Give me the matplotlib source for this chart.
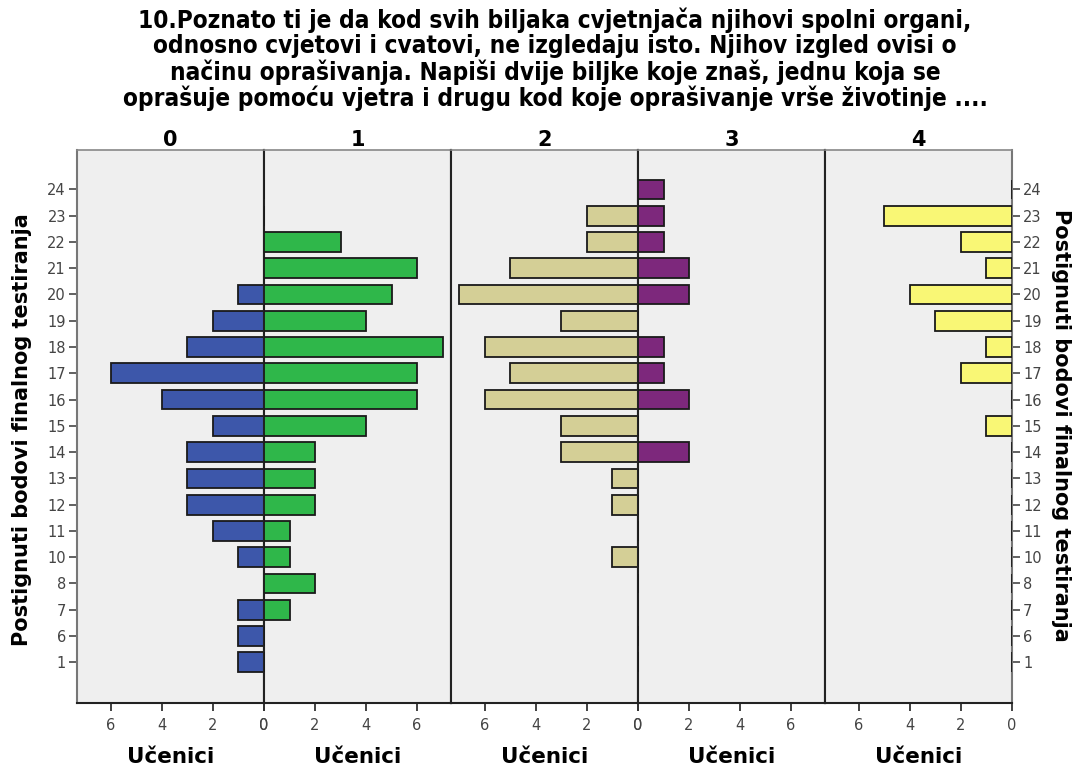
import matplotlib
matplotlib.use("Agg")
import matplotlib.pyplot as plt
import numpy as np

categories = ["1", "6", "7", "8", "10", "11", "12", "13", "14", "15", "16",
              "17", "18", "19", "20", "21", "22", "23", "24"]
panel_names = ["0", "1", "2", "3", "4"]

# counts per category (in order of `categories`)
vals_0 = [1, 1, 1, 0, 1, 2, 3, 3, 3, 2, 4, 6, 3, 2, 1, 0, 0, 0, 0]
vals_1 = [0, 0, 1, 2, 1, 1, 2, 2, 2, 4, 6, 6, 7, 4, 5, 6, 3, 0, 0]
vals_2 = [0, 0, 0, 0, 1, 0, 1, 1, 3, 3, 6, 5, 6, 3, 7, 5, 2, 2, 0]
vals_3 = [0, 0, 0, 0, 0, 0, 0, 0, 2, 0, 2, 1, 1, 0, 2, 2, 1, 1, 1]
vals_4 = [0, 0, 0, 0, 0, 0, 0, 0, 0, 1, 0, 2, 1, 3, 4, 1, 2, 5, 0]
series = [vals_0, vals_1, vals_2, vals_3, vals_4]

colors = ["#3d57aa", "#2fb74a", "#d4cf96", "#7d287c", "#f9f775"]
directions = ["left", "right", "left", "right", "left"]
xticks = [0, 2, 4, 6]

title = ("10.Poznato ti je da kod svih biljaka cvjetnjača njihovi spolni organi,\n"
         "odnosno cvjetovi i cvatovi, ne izgledaju isto. Njihov izgled ovisi o\n"
         "načinu oprašivanja. Napiši dvije biljke koje znaš, jednu koja se\n"
         "oprašuje pomoću vjetra i drugu kod koje oprašivanje vrše životinje ....")
ylabel = "Postignuti bodovi finalnog testiranja"
xlabel = "Učenici"

W, H = 1080, 774
fig = plt.figure(figsize=(W / 100, H / 100), dpi=100)
left, right = 77 / W, 1012 / W
bottom, top = 1 - 703 / H, 1 - 150 / H
pw = (right - left) / 5

y = np.arange(len(categories))
XMAX = 7.33
for i in range(5):
    ax = fig.add_axes([left + i * pw, bottom, pw, top - bottom])
    ax.set_facecolor("#efefef")
    ax.barh(y, series[i], height=0.75, color=colors[i], edgecolor="#1a1a1a",
            linewidth=1.3, zorder=3)
    if directions[i] == "left":
        ax.set_xlim(XMAX, 0)
    else:
        ax.set_xlim(0, XMAX)
    ax.set_ylim(-1.55, len(categories) - 1 + 1.5)
    ax.set_xticks(xticks)
    ax.set_xticklabels([str(t) for t in xticks], fontsize=10.5, color="#444444")
    ax.tick_params(axis="x", direction="out", length=6, width=1.3, color="#333333", pad=5)
    ax.set_xlabel(xlabel, fontsize=15.5, fontweight="bold", labelpad=10)
    ax.set_title(panel_names[i], fontsize=15, fontweight="bold", pad=3)
    for s in ax.spines.values():
        s.set_color("#222222")
        s.set_linewidth(1.5)
    ax.spines["top"].set_color("#888888")
    ax.spines["top"].set_linewidth(1.2)
    ax.set_yticks(y)
    if i == 0:
        ax.set_yticklabels(categories, fontsize=10.5, color="#444444")
        ax.tick_params(axis="y", direction="out", length=6, width=1.3,
                       color="#555555", pad=2)
        ax.spines["left"].set_color("#777777")
    elif i == 4:
        ax.yaxis.tick_right()
        ax.set_yticklabels(categories, fontsize=10.5, color="#444444")
        ax.tick_params(axis="y", direction="out", length=6, width=1.3,
                       color="#555555", pad=2)
        ax.spines["right"].set_color("#777777")
    else:
        ax.tick_params(axis="y", left=False, labelleft=False)

fig.text(22 / W, 1 - 430 / H, ylabel, rotation=90, ha="center", va="center",
         fontsize=15, fontweight="bold")
fig.text(1061 / W, 1 - 425 / H, ylabel, rotation=270, ha="center", va="center",
         fontsize=15, fontweight="bold")

fig.suptitle(title, x=555 / W, fontsize=17.5, fontweight="bold", y=0.99,
             linespacing=1.05, family="DejaVu Sans", fontstretch="condensed")

fig.savefig("out.png", dpi=100)
